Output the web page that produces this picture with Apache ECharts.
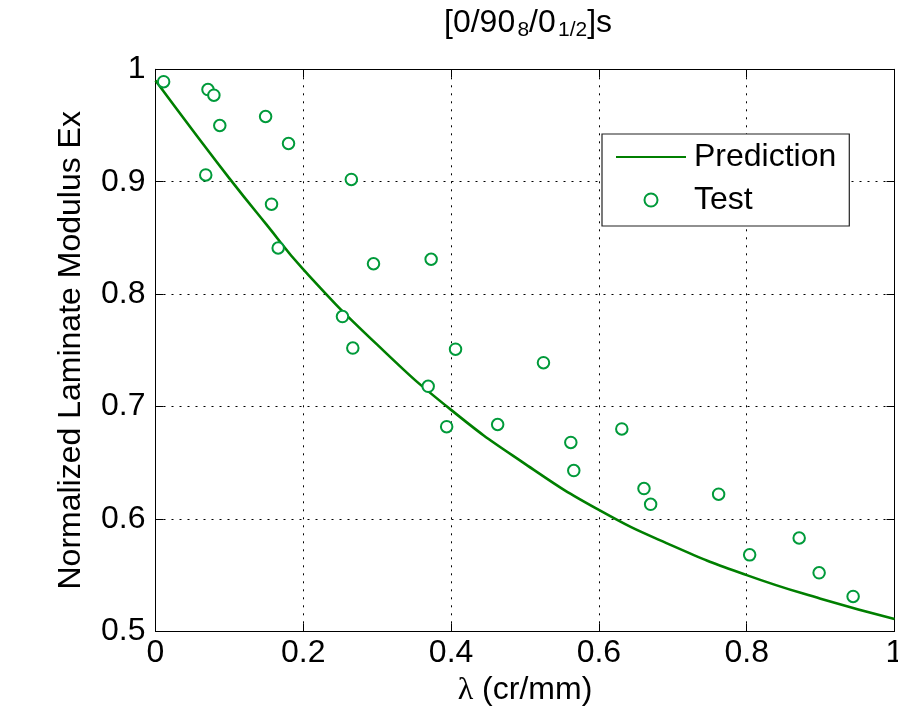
<!DOCTYPE html>
<html>
<head>
<meta charset="utf-8">
<script src="https://cdn.jsdelivr.net/npm/echarts@6/dist/echarts.min.js"></script>
<style>
html,body{margin:0;padding:0;background:#fff;}
#chart{width:898px;height:714px;}
</style>
</head>
<body>
<div id="chart"></div>
<script>
// Prediction curve
const predLambda = [0, 0.05, 0.1, 0.15, 0.2, 0.3, 0.4, 0.5, 0.6, 0.7, 0.8, 0.9, 1.0];
const predEx     = [0.990, 0.946, 0.903, 0.862, 0.822, 0.755, 0.697, 0.649, 0.608, 0.576, 0.550, 0.529, 0.511];

// Test points
const testLambda = [0.011, 0.071, 0.079, 0.087, 0.149, 0.180, 0.068, 0.265, 0.157, 0.166,
                    0.295, 0.373, 0.253, 0.267, 0.369, 0.406, 0.394, 0.525, 0.463, 0.562,
                    0.566, 0.631, 0.661, 0.670, 0.762, 0.804, 0.871, 0.898, 0.944];
const testEx     = [0.989, 0.982, 0.977, 0.950, 0.958, 0.934, 0.906, 0.902, 0.880, 0.841,
                    0.827, 0.831, 0.780, 0.752, 0.718, 0.751, 0.682, 0.739, 0.684, 0.668,
                    0.643, 0.680, 0.627, 0.613, 0.622, 0.568, 0.583, 0.552, 0.531];

const xTickLabels = ['0', '0.2', '0.4', '0.6', '0.8', '1'];
const yTickLabels = ['0.5', '0.6', '0.7', '0.8', '0.9', '1'];

const FONT = '"Liberation Sans", Arial, sans-serif';
const lineColor = '#007f00';
const markColor = '#009a3a';

const chart = echarts.init(document.getElementById('chart'), null, {renderer: 'canvas'});

const gridLine = {show: true, lineStyle: {color: '#000', width: 1, type: [2, 6]}};

chart.setOption({
  animation: false,
  backgroundColor: '#fff',
  title: {
    text: '{a|[0/90}{g| }{s|8}{a|/0}{g| }{s|1/2}{a|]s}',
    left: 444, top: 7, padding: 0,
    textStyle: {
      fontWeight: 'normal',
      rich: {
        a: {fontFamily: FONT, fontSize: 32, fontWeight: 'normal', color: '#000', lineHeight: 34, verticalAlign: 'top'},
        g: {fontFamily: FONT, fontSize: 8, fontWeight: 'normal', color: '#000', lineHeight: 10, verticalAlign: 'top'},
        s: {fontFamily: FONT, fontSize: 21, fontWeight: 'normal', color: '#000', lineHeight: 21, verticalAlign: 'bottom', padding: [20, 0, 0, 0]}
      }
    }
  },
  legend: {
    orient: 'vertical',
    left: 602, top: 134,
    padding: [7, 13, 10, 13],
    itemGap: 11,
    itemWidth: 70, itemHeight: 13,
    backgroundColor: '#fff',
    borderColor: '#222', borderWidth: 1.2,
    textStyle: {fontFamily: FONT, fontSize: 32, color: '#000', padding: [0, 0, 0, 3]},
    data: [{name: 'Prediction', itemStyle: {opacity: 0}}, {name: 'Test'}]
  },
  grid: {left: 155.5, top: 69.3, width: 739, height: 562, containLabel: false, outerBoundsMode: 'none'},
  xAxis: [{
    type: 'value', min: 0, max: 1, interval: 0.2, position: 'bottom',
    name: '{l|λ} (cr/mm)', nameLocation: 'middle', nameGap: 42,
    nameTextStyle: {fontFamily: FONT, fontSize: 32, color: '#000',
      rich: {l: {fontFamily: '"Liberation Serif", serif', fontSize: 32, color: '#000'}}},
    axisLine: {show: true, onZero: false, lineStyle: {color: '#000', width: 1}},
    axisTick: {show: true, inside: true, length: 8, lineStyle: {color: '#000'}},
    axisLabel: {fontFamily: FONT, fontSize: 32, color: '#000', margin: 6,
      formatter: (v, i) => xTickLabels[i]},
    splitLine: gridLine
  }, {
    type: 'value', min: 0, max: 1, interval: 0.2, position: 'top',
    axisLine: {show: true, onZero: false, lineStyle: {color: '#000', width: 1}},
    axisTick: {show: true, inside: true, length: 8, lineStyle: {color: '#000'}},
    axisLabel: {show: false}, splitLine: {show: false}
  }],
  yAxis: [{
    type: 'value', min: 0.5, max: 1, interval: 0.1, position: 'left',
    name: 'Normalized Laminate Modulus Ex', nameLocation: 'middle', nameGap: 68, nameRotate: 90,
    nameTextStyle: {fontFamily: FONT, fontSize: 32, color: '#000'},
    axisLine: {show: true, onZero: false, lineStyle: {color: '#000', width: 1}},
    axisTick: {show: true, inside: true, length: 8, lineStyle: {color: '#000'}},
    axisLabel: {fontFamily: FONT, fontSize: 32, color: '#000', margin: 10,
      formatter: (v, i) => yTickLabels[i]},
    splitLine: gridLine
  }, {
    type: 'value', min: 0.5, max: 1, interval: 0.1, position: 'right',
    axisLine: {show: true, onZero: false, lineStyle: {color: '#000', width: 1}},
    axisTick: {show: true, inside: true, length: 8, lineStyle: {color: '#000'}},
    axisLabel: {show: false}, splitLine: {show: false}
  }],
  series: [{
    name: 'Prediction', type: 'line', xAxisIndex: 0, yAxisIndex: 0,
    data: predLambda.map((x, i) => [x, predEx[i]]),
    smooth: 0.5, symbol: 'none', showSymbol: false,
    lineStyle: {color: lineColor, width: 2.6},
    itemStyle: {color: lineColor},
    z: 2
  }, {
    name: 'Test', type: 'scatter', xAxisIndex: 0, yAxisIndex: 0,
    data: testLambda.map((x, i) => [x, testEx[i]]),
    symbol: 'emptyCircle', symbolSize: 11.5,
    itemStyle: {color: markColor, borderColor: markColor, borderWidth: 2.5, opacity: 1},
    z: 3
  }]
});
</script>
</body>
</html>
